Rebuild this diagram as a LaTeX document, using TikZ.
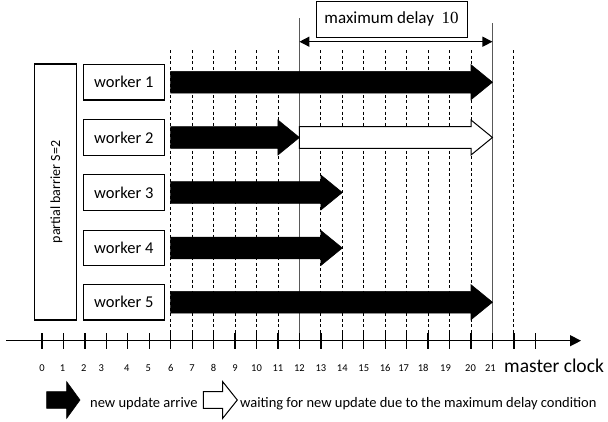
\documentclass[tikz,border=0pt]{standalone}
\usepackage{fontspec}
\setmainfont{Carlito}
\newfontfamily\numserif{Liberation Serif}
\usetikzlibrary{arrows.meta}
% #1 start x, #2 head base x, #3 tip x, #4 centre y, #5 body half height, #6 head half height, #7 style
\newcommand{\blockarrow}[7]{%
  \path[#7] ({#1},{#4-#5}) -- ({#2},{#4-#5}) -- ({#2},{#4-#6}) -- ({#3},{#4})
    -- ({#2},{#4+#6}) -- ({#2},{#4+#5}) -- ({#1},{#4+#5}) -- cycle;}
\begin{document}
\begin{tikzpicture}[x=1pt,y=-1pt,
  box/.style={draw, line width=1.1pt, inner sep=0pt},
  workerbox/.style={box, minimum width=81pt, minimum height=35.5pt,
    font=\fontsize{16.5}{18}\selectfont},
  gridline/.style={line width=0.9pt, dash pattern=on 3pt off 2.6pt},
  solidline/.style={line width=0.8pt, black!65},
  ticklabel/.style={anchor=base, inner sep=0pt, font=\fontsize{10.5}{12}\selectfont},
  legendtext/.style={anchor=base west, inner sep=0pt, font=\fontsize{14.5}{16}\selectfont},
  updatearrow/.style={fill=black, draw=black, line width=0.6pt},
  waitarrow/.style={fill=white, draw=black, line width=1pt},
  delaytip/.style={Triangle[length=10pt,width=10pt]},
]
\useasboundingbox (0,0) rectangle (608,421);

% vertical grid lines
\foreach \i in {6,...,11,13,14,...,20,22} {
  \coordinate (gt\i) at ({42+21.45*\i},50);
  \coordinate (gb\i) at ({42+21.45*\i},341);
  \draw[gridline] (gt\i) -- (gb\i);
}
\coordinate (s12t) at ({42+21.45*12},18);
\coordinate (s12b) at ({42+21.45*12},341);
\coordinate (s21t) at ({42+21.45*21},23);
\coordinate (s21b) at ({42+21.45*21},341);
\draw[solidline] (s12t) -- (s12b);
\draw[solidline] (s21t) -- (s21b);

% maximum delay
\node[box, minimum width=151pt, minimum height=36.5pt,
  font=\fontsize{17}{19}\selectfont] (md) at (391.6,19.3)
  {maximum delay\ \ {\numserif 10}};
\coordinate (mdl) at ({42+21.45*12},41.7);
\coordinate (mdr) at ({42+21.45*21},41.7);
\draw[line width=1.4pt, {Triangle[length=10pt,width=10pt]}-{Triangle[length=10pt,width=10pt]}] (mdl) -- (mdr);

% barrier and workers
\node[box, minimum width=42.5pt, minimum height=256pt] (barrier) at (55.5,192) {};
\node[rotate=90, font=\fontsize{14}{16}\selectfont] (barrierlabel) at (56.5,192) {partial barrier S=2};
\node[workerbox] (w1) at (123.8,82.2) {worker 1};
\node[workerbox] (w2) at (123.8,137.5) {worker 2};
\node[workerbox] (w3) at (123.8,192.5) {worker 3};
\node[workerbox] (w4) at (123.8,248) {worker 4};
\node[workerbox] (w5) at (123.8,302.2) {worker 5};

% update arrows
\blockarrow{42+21.45*6}{42+21.45*20}{42+21.45*21}{82.2}{10.8}{17.5}{updatearrow}
\blockarrow{42+21.45*12}{42+21.45*20}{42+21.45*21}{137.5}{10.8}{17.5}{waitarrow}
\blockarrow{42+21.45*6}{42+21.45*11}{42+21.45*12}{137.5}{10.8}{17.5}{updatearrow}
\blockarrow{42+21.45*6}{42+21.45*13}{42+21.45*14}{192.5}{10.8}{17.5}{updatearrow}
\blockarrow{42+21.45*6}{42+21.45*13}{42+21.45*14}{248}{10.8}{17.5}{updatearrow}
\blockarrow{42+21.45*6}{42+21.45*20}{42+21.45*21}{302.2}{10.8}{17.5}{updatearrow}

% time axis
\coordinate (ax0) at (6,340.7);
\coordinate (ax1) at (581,340.7);
\draw[line width=1.3pt, -{Triangle[length=11pt,width=11pt]}] (ax0) -- (ax1);
\foreach \i in {0,...,23} {
  \coordinate (tt\i) at ({42+21.45*\i},333.3);
  \coordinate (tb\i) at ({42+21.45*\i},349);
  \draw[line width=1.3pt] (tt\i) -- (tb\i);
}
\foreach \i/\dx in {0/0,1/-1,2/-1,3/-5,4/-1,5/-1,6/0,7/0,8/0,9/0,10/0,11/0,12/0,13/0,14/0,15/0,16/0,17/-3,18/-5,19/-4,20/-0.5,21/-2} {
  \node[ticklabel] (lab\i) at ({42+21.45*\i+\dx},371.7) {\i};
}
\node[anchor=base west, inner sep=0pt, font=\fontsize{19.5}{22}\selectfont] (clock) at (504,372.5) {master clock};

% legend
\blockarrow{46.7}{66.7}{80}{400}{8.3}{18.3}{updatearrow}
\node[legendtext] (leg1) at (90,407.5) {new update arrive};
\blockarrow{203.3}{222.7}{237.3}{400}{8.3}{18.3}{waitarrow}
\node[legendtext] (leg2) at (240,407.5) {waiting for new update due to the maximum delay condition};
\end{tikzpicture}
\end{document}
